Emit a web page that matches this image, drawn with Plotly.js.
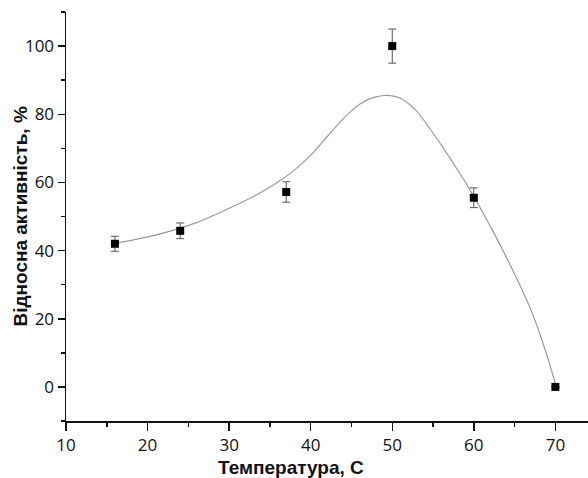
<!DOCTYPE html>
<html>
<head>
<meta charset="utf-8">
<script src="https://cdn.plot.ly/plotly-3.0.1.min.js"></script>
<style>
html,body{margin:0;padding:0;background:#fff;}
#chart{width:588px;height:478px;}
</style>
</head>
<body>
<div id="chart"></div>
<script>
// Measured points
const tempX = [16, 24, 37, 50, 60, 70];
const activityY = [42, 45.8, 57.2, 100, 55.5, 0];
const activityErr = [2.2, 2.3, 3.0, 5.0, 2.9, 0];

// Fitted curve
const fitX = [16, 18, 20, 22, 24, 26, 28, 30, 32, 34, 36, 38, 40, 42, 44, 45, 46, 47, 48, 49, 50, 51, 52, 53, 54, 55, 56, 57, 58, 59, 60, 61, 62, 63, 64, 65, 66, 67, 68, 69, 70];
const fitY = [42.2, 43.0, 44.0, 45.2, 46.6, 48.2, 50.2, 52.4, 54.7, 57.2, 60.1, 63.6, 68.0, 73.4, 78.7, 81.0, 82.9, 84.3, 85.1, 85.5, 85.4, 84.7, 83.1, 80.9, 77.8, 74.5, 71.0, 67.4, 63.7, 59.9, 55.9, 51.6, 47.2, 42.7, 38.0, 33.1, 28.0, 22.6, 16.2, 9.0, 1.0];

const xTicks = [10, 20, 30, 40, 50, 60, 70];
const yTicks = [0, 20, 40, 60, 80, 100];

const xTitle = 'Температура, С';
const yTitle = 'Відносна активність, %';

const traces = [
  {
    x: fitX, y: fitY, type: 'scatter', mode: 'lines',
    line: {color: '#9a9a9a', width: 1.2, shape: 'spline', smoothing: 1},
    hoverinfo: 'skip'
  },
  {
    x: tempX, y: activityY, type: 'scatter', mode: 'markers',
    marker: {symbol: 'square', size: 8, color: '#000'},
    error_y: {type: 'data', array: activityErr, visible: true, color: '#555', thickness: 1, width: 4}
  }
];

const tickFont = {family: '"Open Sans", "Liberation Sans", sans-serif', size: 17, color: '#111'};
const titleFont = {family: '"Liberation Sans", Arial, sans-serif', size: 19, color: '#111'};

const layout = {
  width: 588, height: 478,
  margin: {l: 66, r: 0, t: 12, b: 57},
  paper_bgcolor: '#fff', plot_bgcolor: '#fff',
  showlegend: false,
  xaxis: {
    range: [10, 74], tickvals: xTicks, ticktext: xTicks.map(String),
    showgrid: false, zeroline: false,
    showline: true, linecolor: '#111', linewidth: 1.5,
    ticks: 'outside', ticklen: 8, tickwidth: 1.5, tickcolor: '#111',
    minor: {dtick: 5, ticks: 'outside', ticklen: 4, tickwidth: 1.5, tickcolor: '#111', showgrid: false},
    tickfont: tickFont
  },
  yaxis: {
    range: [-10, 110], tickvals: yTicks, ticktext: yTicks.map(String),
    showgrid: false, zeroline: false,
    showline: true, linecolor: '#111', linewidth: 1.5,
    ticks: 'outside', ticklen: 7, tickwidth: 1.5, tickcolor: '#111',
    minor: {dtick: 10, ticks: 'outside', ticklen: 4, tickwidth: 1.5, tickcolor: '#111', showgrid: false},
    tickfont: tickFont
  },
  annotations: [
    {
      text: '<b>' + xTitle + '</b>', xref: 'paper', yref: 'paper',
      x: (291 - 66) / 522, y: -46 / 409, xanchor: 'center', yanchor: 'middle', showarrow: false,
      font: titleFont
    },
    {
      text: '<b>' + yTitle + '</b>', xref: 'paper', yref: 'paper', textangle: -90,
      x: (20 - 66) / 522, y: 0.5, xanchor: 'center', yanchor: 'middle', showarrow: false,
      font: titleFont
    }
  ]
};

Plotly.newPlot('chart', traces, layout, {displayModeBar: false, staticPlot: true});
</script>
</body>
</html>
